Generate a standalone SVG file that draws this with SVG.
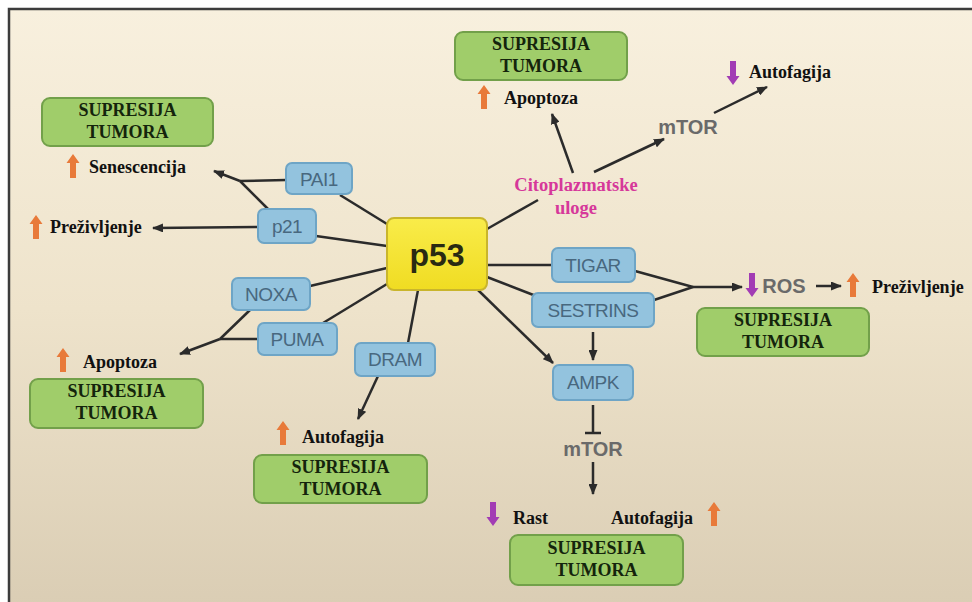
<svg xmlns="http://www.w3.org/2000/svg" width="972" height="602" viewBox="0 0 972 602">
<defs>
<linearGradient id="bg" x1="0" y1="0" x2="0" y2="1">
<stop offset="0" stop-color="#f8f0de"/>
<stop offset="0.5" stop-color="#eee3cb"/>
<stop offset="1" stop-color="#dacdb4"/>
</linearGradient>
<linearGradient id="yel" x1="0" y1="0" x2="0" y2="1">
<stop offset="0" stop-color="#f9ec4a"/>
<stop offset="1" stop-color="#f0dc22"/>
</linearGradient>
<marker id="ah" markerUnits="userSpaceOnUse" markerWidth="11" markerHeight="9" refX="10" refY="4.5" orient="auto">
<path d="M0,0 L11,4.5 L0,9 Z" fill="#2b2b2b"/>
</marker>
<path id="up" d="M0,-12 L6.5,-3 L3,-3 L3,12 L-3,12 L-3,-3 L-6.5,-3 Z"/>
<style>
.frame{fill:url(#bg);stroke:#3c3c3c;stroke-width:2.5}
.green rect{fill:#a0cd6a;stroke:#72a04a;stroke-width:2}
.green text{font-family:"Liberation Serif",serif;font-weight:bold;font-size:18px;fill:#14240c;text-anchor:middle}
.blue rect{fill:#93c3de;stroke:#6ea5c6;stroke-width:2}
.blue text{font-family:"Liberation Sans",Arial,sans-serif;font-size:19px;fill:#48687f;text-anchor:middle;letter-spacing:-0.5px}
.lbl{font-family:"Liberation Serif",serif;font-weight:bold;font-size:18px;fill:#111}
.gray{font-family:"Liberation Sans",Arial,sans-serif;font-size:20px;fill:#6a6a6a;text-anchor:middle;font-weight:bold}
.pink{font-family:"Liberation Serif",serif;font-weight:bold;font-size:18.5px;fill:#d6389a;text-anchor:middle}
.or{fill:#e87a3a}
.pu{fill:#a23cb4}
#connectors path{fill:none;stroke:#2b2b2b;stroke-width:2.5}
#connectors .arr{marker-end:url(#ah)}
</style>
</defs>
<rect x="0" y="0" width="972" height="602" fill="#ffffff"/>
<rect class="frame" x="9" y="9" width="980" height="600"/>

<g id="connectors">
<path d="M340,195 L387,224"/>
<path d="M316,236 L387,246"/>
<path d="M310,286 L387,268"/>
<path d="M323,323 L387,284"/>
<path d="M408,343 L418,290"/>
<path d="M487,265 L552,265"/>
<path d="M487,277 L536,296"/>
<path d="M487,229 L538,200"/>
<path d="M286,180 L240,181"/>
<path d="M268,209 L240,181"/>
<path class="arr" d="M240,181 L214,171"/>
<path class="arr" d="M258,227 L153,228"/>
<path d="M250,310 L220,339"/>
<path d="M258,339 L220,339"/>
<path class="arr" d="M220,339 L180,354"/>
<path class="arr" d="M378,376 L358,419"/>
<path class="arr" d="M478,290 L553,363"/>
<path d="M635,271 L693,287"/>
<path d="M654,300 L693,287"/>
<path class="arr" d="M693,287 L742,287"/>
<path class="arr" d="M816,286 L841,286"/>
<path class="arr" d="M573,173 L552,114"/>
<path class="arr" d="M594,172 L664,139"/>
<path class="arr" d="M714,113 L767,87"/>
<path class="arr" d="M593,332 L593,360"/>
<path d="M593,405 L593,433"/>
<path d="M585,433 L601,433"/>
<path class="arr" d="M593,462 L593,494"/>
</g>

<g id="p53">
<rect x="387" y="218" width="100" height="72" rx="7" fill="url(#yel)" stroke="#c9b52c" stroke-width="2"/>
<text x="437" y="266" font-family="'Liberation Sans',Arial,sans-serif" font-weight="bold" font-size="32" fill="#2a2a12" text-anchor="middle">p53</text>
</g>

<g id="PAI1" class="blue"><rect x="286" y="163" width="66" height="31" rx="6"/><text x="319" y="186">PAI1</text></g>
<g id="p21" class="blue"><rect x="258" y="209" width="58" height="34" rx="6"/><text x="287" y="233">p21</text></g>
<g id="NOXA" class="blue"><rect x="232" y="278" width="78" height="32" rx="6"/><text x="271" y="301">NOXA</text></g>
<g id="PUMA" class="blue"><rect x="258" y="323" width="79" height="32" rx="6"/><text x="297" y="346">PUMA</text></g>
<g id="DRAM" class="blue"><rect x="355" y="343" width="80" height="33" rx="6"/><text x="395" y="366">DRAM</text></g>
<g id="TIGAR" class="blue"><rect x="552" y="248" width="83" height="34" rx="6"/><text x="593" y="272">TIGAR</text></g>
<g id="SESTRINS" class="blue"><rect x="532" y="293" width="122" height="34" rx="6"/><text x="593" y="317">SESTRINS</text></g>
<g id="AMPK" class="blue"><rect x="553" y="365" width="80" height="35" rx="6"/><text x="593" y="389">AMPK</text></g>

<g id="mTOR1"><text class="gray" x="688" y="134">mTOR</text></g>
<g id="mTOR2"><text class="gray" x="593" y="456">mTOR</text></g>
<g id="ROS"><use href="#up" class="pu" transform="translate(752,285) rotate(180)"/><text class="gray" x="784" y="293">ROS</text></g>

<g id="citoplazmatske"><text class="pink" x="576" y="191">Citoplazmatske</text><text class="pink" x="576" y="214">uloge</text></g>

<g id="sup1" class="green"><rect x="42" y="98" width="171" height="48" rx="8"/><text x="127.5" y="116">SUPRESIJA</text><text x="127.5" y="138">TUMORA</text></g>
<g id="sup2" class="green"><rect x="455" y="32" width="172" height="48" rx="8"/><text x="541" y="50">SUPRESIJA</text><text x="541" y="72">TUMORA</text></g>
<g id="sup3" class="green"><rect x="697" y="308" width="172" height="48" rx="8"/><text x="783" y="326">SUPRESIJA</text><text x="783" y="348">TUMORA</text></g>
<g id="sup4" class="green"><rect x="30" y="379" width="173" height="49" rx="8"/><text x="116.5" y="397">SUPRESIJA</text><text x="116.5" y="419">TUMORA</text></g>
<g id="sup5" class="green"><rect x="254" y="455" width="173" height="48" rx="8"/><text x="340.5" y="473">SUPRESIJA</text><text x="340.5" y="495">TUMORA</text></g>
<g id="sup6" class="green"><rect x="510" y="535" width="173" height="50" rx="8"/><text x="596.5" y="554">SUPRESIJA</text><text x="596.5" y="576">TUMORA</text></g>

<g id="senescencija"><use href="#up" class="or" transform="translate(73,166)"/><text class="lbl" x="89" y="173" font-size="17">Senescencija</text></g>
<g id="prezivljenje1"><use href="#up" class="or" transform="translate(36,227)"/><text class="lbl" x="50" y="233">Preživljenje</text></g>
<g id="apoptoza1"><use href="#up" class="or" transform="translate(484,97)"/><text class="lbl" x="504" y="104">Apoptoza</text></g>
<g id="autofagija1"><use href="#up" class="pu" transform="translate(733,73) rotate(180)"/><text class="lbl" x="749" y="78">Autofagija</text></g>
<g id="prezivljenje2"><use href="#up" class="or" transform="translate(853,285)"/><text class="lbl" x="872" y="293">Preživljenje</text></g>
<g id="apoptoza2"><use href="#up" class="or" transform="translate(63,360)"/><text class="lbl" x="83" y="368">Apoptoza</text></g>
<g id="autofagija2"><use href="#up" class="or" transform="translate(283,433)"/><text class="lbl" x="302" y="443">Autofagija</text></g>
<g id="rast"><use href="#up" class="pu" transform="translate(493,514) rotate(180)"/><text class="lbl" x="513" y="524">Rast</text></g>
<g id="autofagija3"><use href="#up" class="or" transform="translate(714,514)"/><text class="lbl" x="611" y="524">Autofagija</text></g>
</svg>
